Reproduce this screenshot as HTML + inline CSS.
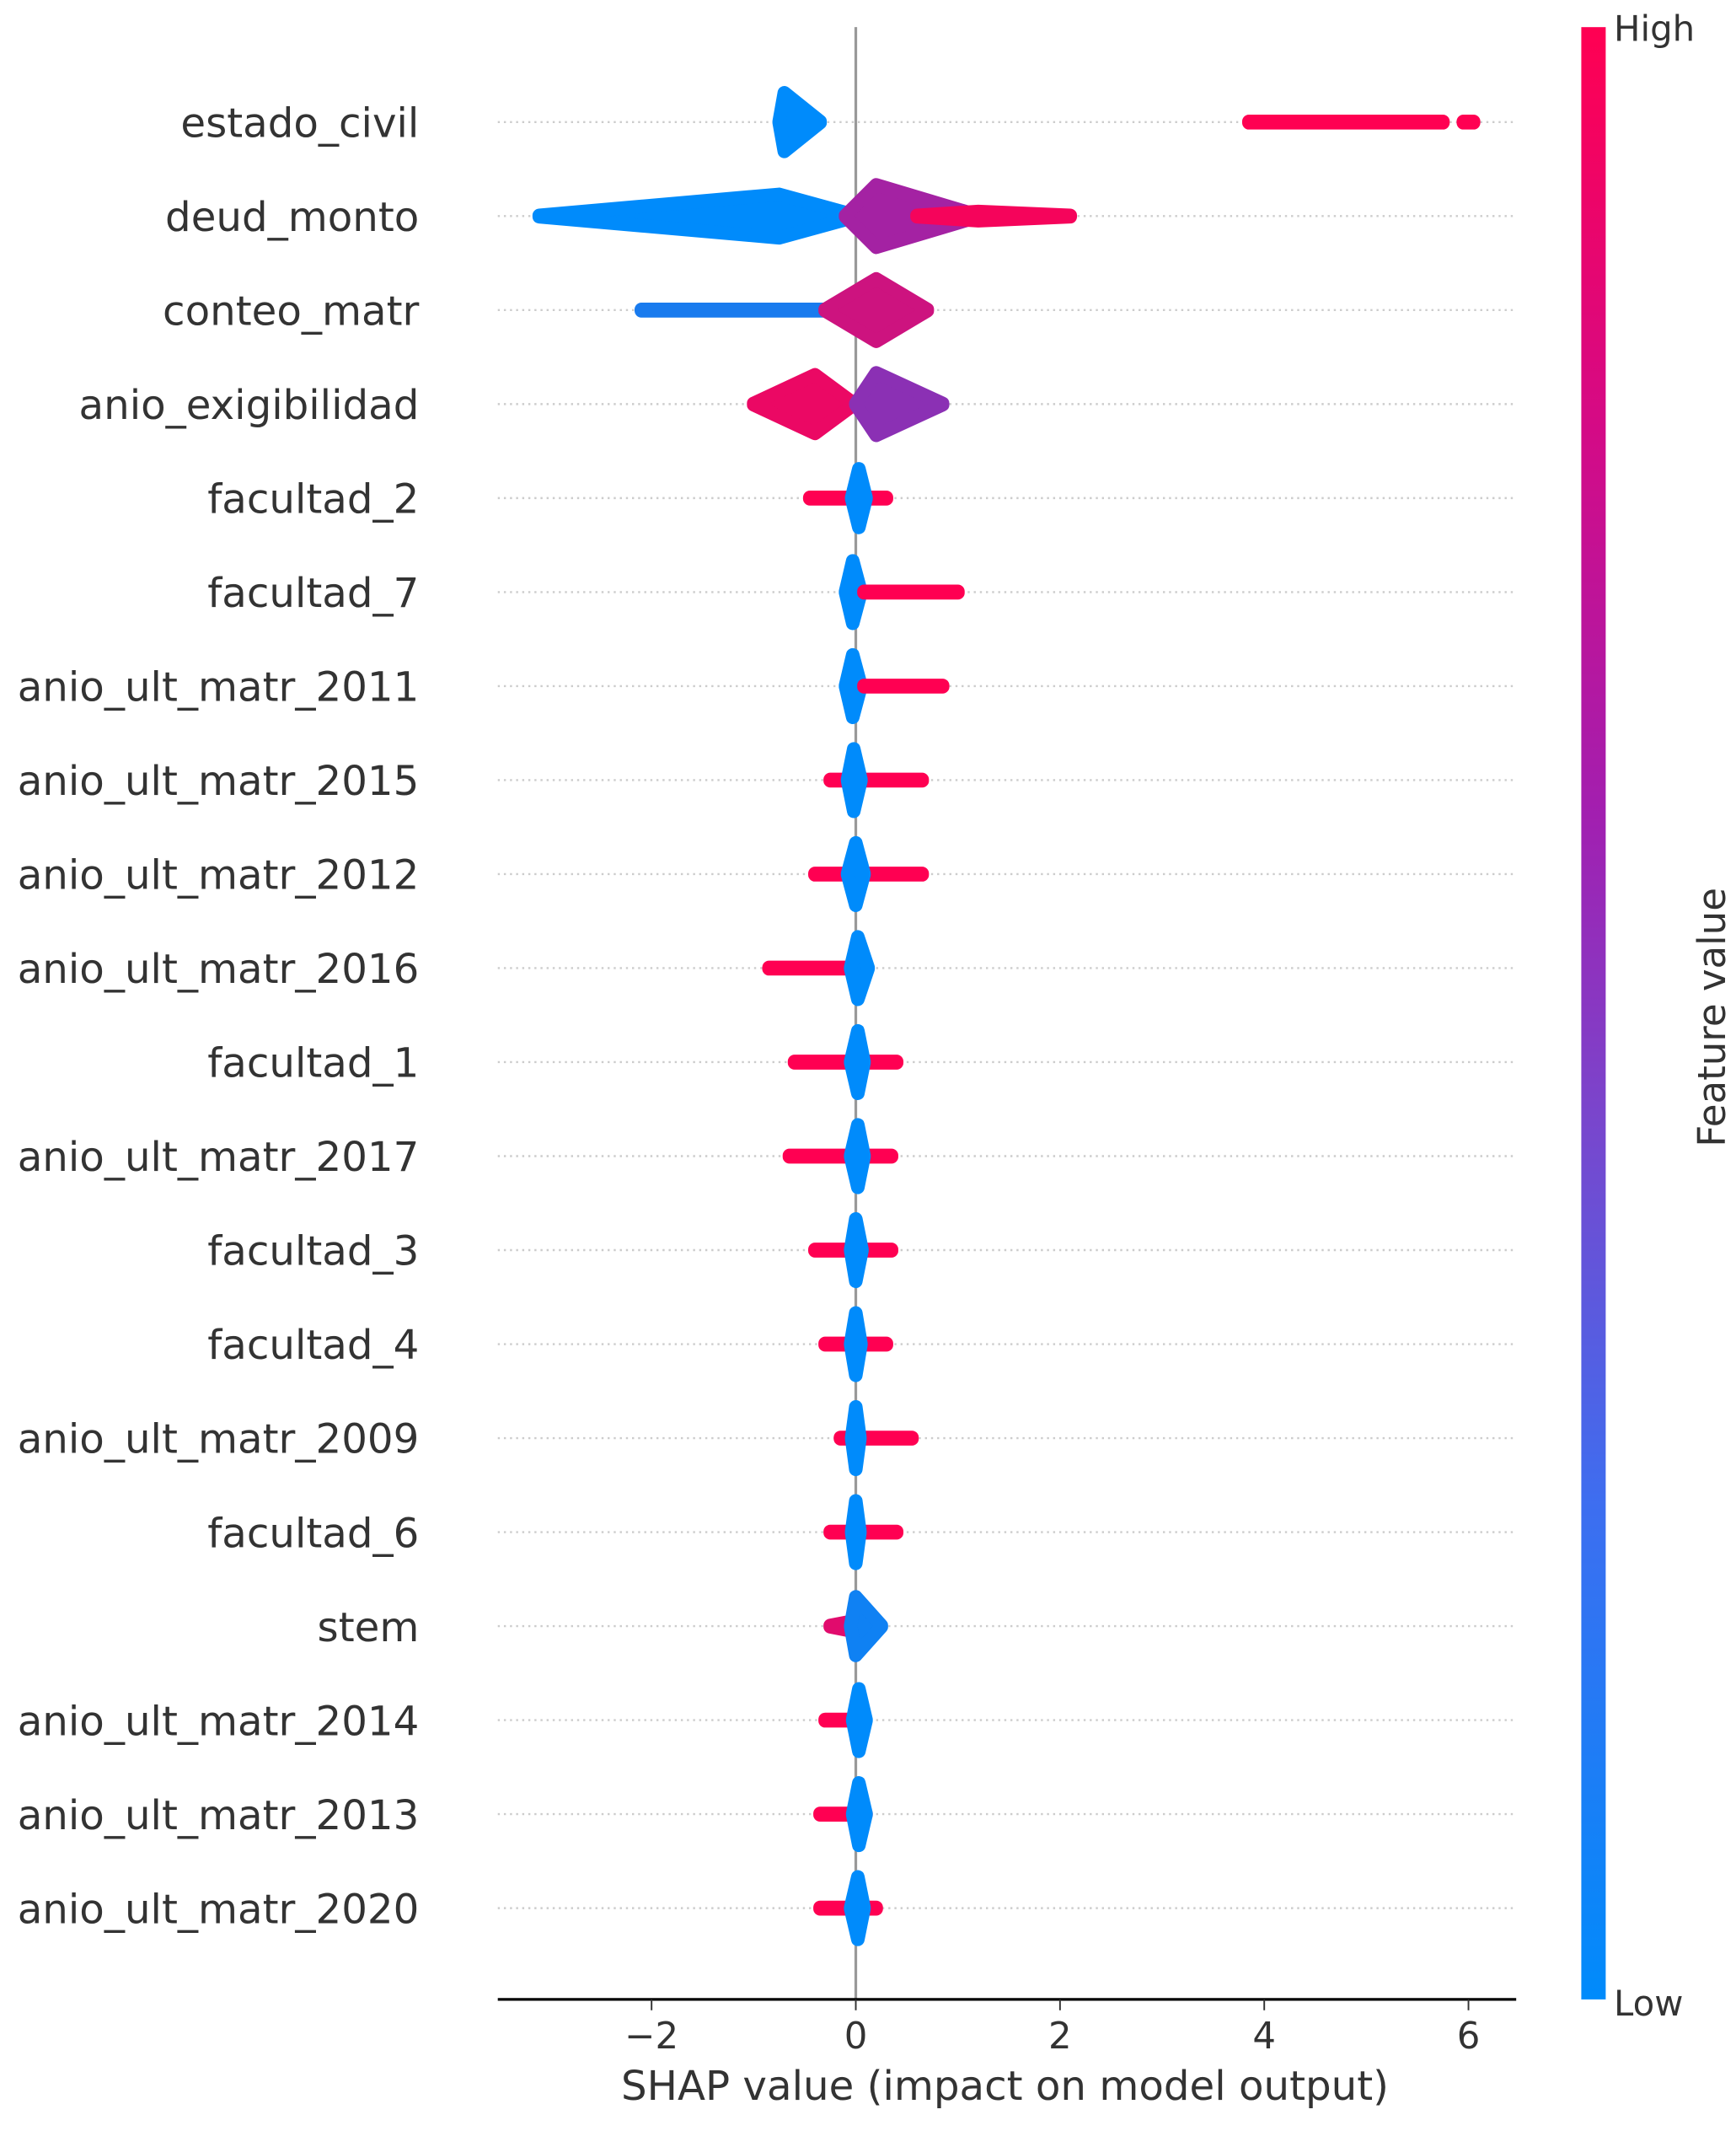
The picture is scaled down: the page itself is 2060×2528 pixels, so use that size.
<!DOCTYPE html>
<html><head><meta charset="utf-8"><style>
html,body{margin:0;padding:0;background:#fff;}
svg{display:block;}
text{font-family:"DejaVu Sans","Liberation Sans",sans-serif;fill:#333;}
</style></head><body>
<svg id="chart" width="2060" height="2528" viewBox="0 0 1280 1571" xmlns="http://www.w3.org/2000/svg">
<defs>
<linearGradient id="cbar" x1="0" y1="1" x2="0" y2="0">
<stop offset="0" stop-color="#008bfb"/>
<stop offset="0.25" stop-color="#3d6ef0"/>
<stop offset="0.45" stop-color="#7a45cc"/>
<stop offset="0.6" stop-color="#a21fb0"/>
<stop offset="0.8" stop-color="#d50a85"/>
<stop offset="1" stop-color="#ff0052"/>
</linearGradient>
</defs>
<g id="grid"></g>
<line x1="631" y1="20" x2="631" y2="1474" stroke="#999" stroke-width="2"/>
<g id="marks"></g>
<g id="labels"></g>
<line x1="367" y1="1474" x2="1118" y2="1474" stroke="#000" stroke-width="2"/>
<g id="xticks"></g>
<text x="741" y="1548" font-size="30" text-anchor="middle">SHAP value (impact on model output)</text>
<rect x="1166" y="20" width="18" height="1454" fill="url(#cbar)"/>
<text x="1190" y="30" font-size="26">High</text>
<text x="1190" y="1486" font-size="26">Low</text>
<text transform="translate(1272,750) rotate(-90)" font-size="28" text-anchor="middle">Feature value</text>
</svg>
<script>
const features = ["estado_civil","deud_monto","conteo_matr","anio_exigibilidad","facultad_2","facultad_7","anio_ult_matr_2011","anio_ult_matr_2015","anio_ult_matr_2012","anio_ult_matr_2016","facultad_1","anio_ult_matr_2017","facultad_3","facultad_4","anio_ult_matr_2009","facultad_6","stem","anio_ult_matr_2014","anio_ult_matr_2013","anio_ult_matr_2020"];
const tickValues = [-2,0,2,4,6];
const tickLabels = ["\u22122","0","2","4","6"];
// cluster segments: feature row, min SHAP, max SHAP, peak SHAP, spread (density), feature-value colour (0 low .. 1 high)
const segRow  = [0,0,0, 1,1,1, 2,2, 3,3, 4,4, 5,5, 6,6, 7,7, 8,8, 9,9, 10,10, 11,11, 12,12, 13,13, 14,14, 15,15, 16,16, 17,17, 18,18, 19,19];
const segMin  = [-0.75,3.85,5.95, -3.1,-0.1,0.6, -2.1,-0.3, -1.0,0.0, -0.45,-0.04, -0.1,0.08, -0.1,0.08, -0.25,-0.08, -0.4,-0.08, -0.85,-0.05, -0.6,-0.05, -0.65,-0.05, -0.4,-0.05, -0.3,-0.05, -0.15,-0.04, -0.25,-0.04, -0.25,-0.05, -0.3,-0.03, -0.35,-0.03, -0.35,-0.05];
const segMax  = [-0.35,5.75,6.05, 0.0,1.2,2.1, -0.3,0.7, -0.02,0.85, 0.3,0.1, 0.05,1.0, 0.05,0.85, 0.65,0.05, 0.65,0.08, -0.05,0.12, 0.4,0.08, 0.35,0.08, 0.35,0.06, 0.3,0.05, 0.55,0.04, 0.4,0.04, 0.1,0.25, 0.05,0.1, 0.1,0.1, 0.2,0.08];
const segPeak = [-0.7,4.8,6.0, -0.75,0.2,1.2, -1.2,0.2, -0.4,0.2, 0.0,0.03, -0.03,0.5, -0.03,0.4, 0.2,-0.02, 0.1,0.0, -0.4,0.02, 0.0,0.02, 0.0,0.02, 0.0,0.0, 0.0,0.0, 0.2,0.0, 0.1,0.0, -0.05,0.0, -0.1,0.03, -0.1,0.03, -0.1,0.02];
const segSpread=[0.95,0.1,0.1, 0.75,1.0,0.3, 0.18,1.0, 0.95,1.0, 0.15,0.95, 1.0,0.12, 1.0,0.12, 0.12,1.0, 0.15,1.0, 0.12,1.0, 0.15,1.0, 0.15,1.0, 0.12,1.0, 0.12,1.0, 0.12,1.0, 0.12,1.0, 0.3,0.95, 0.12,1.0, 0.12,1.0, 0.12,1.0];
const segColor= [0,1,1, 0,0.55,0.95, 0.08,0.75, 0.9,0.45, 1,0, 0,1, 0,1, 1,0, 1,0, 1,0, 1,0, 1,0, 1,0, 1,0, 1,0, 1,0, 0.85,0.05, 1,0, 1,0, 1,0];

const NS="http://www.w3.org/2000/svg";
const xScale = v => 631 + v*75.3;
const yScale = i => 90 + i*69.3;
const maxHalf = 28;
function mix(t){
  const a=[0,139,251], m=[154,38,172], b=[255,0,82];
  let c;
  if(t<0.5){const u=t/0.5;c=a.map((v,k)=>Math.round(v+(m[k]-v)*u));}
  else{const u=(t-0.5)/0.5;c=m.map((v,k)=>Math.round(v+(b[k]-v)*u));}
  return "rgb("+c.join(",")+")";
}
const grid=document.getElementById("grid"), marks=document.getElementById("marks"), labels=document.getElementById("labels"), xt=document.getElementById("xticks");
features.forEach((f,i)=>{
  const y=yScale(i);
  const l=document.createElementNS(NS,"line");
  
  
  l.setAttribute("x1",367);l.setAttribute("x2",1118);l.setAttribute("y1",y);l.setAttribute("y2",y);
  l.setAttribute("stroke","#ccc");l.setAttribute("stroke-width","1.5");l.setAttribute("stroke-dasharray","1.5,3");
  grid.appendChild(l);
  const t=document.createElementNS(NS,"text");
  
  
  t.setAttribute("x",309);t.setAttribute("y",y+11);t.setAttribute("text-anchor","end");t.setAttribute("font-size","30");
  t.textContent=f;labels.appendChild(t);
});
segRow.forEach((r,k)=>{
  const y=yScale(r), x0=xScale(segMin[k]), x1=xScale(segMax[k]), xp=xScale(segPeak[k]);
  const h=Math.max(0.5, segSpread[k]*maxHalf - 5);
  const tip=0.5;
  const d="M"+x0+","+(y-tip)+" L"+xp+","+(y-h)+" L"+x1+","+(y-tip)+" L"+x1+","+(y+tip)+" L"+xp+","+(y+h)+" L"+x0+","+(y+tip)+" Z";
  const p=document.createElementNS(NS,"path");
  
  
  p.setAttribute("d",d);
  const c=mix(segColor[k]);
  p.setAttribute("fill",c);p.setAttribute("stroke",c);p.setAttribute("stroke-width","10");p.setAttribute("stroke-linejoin","round");
  marks.appendChild(p);
});
tickValues.forEach((v,k)=>{
  const x=xScale(v);
  const l=document.createElementNS(NS,"line");
  
  
  l.setAttribute("x1",x);l.setAttribute("x2",x);l.setAttribute("y1",1474);l.setAttribute("y2",1482);
  l.setAttribute("stroke","#333");l.setAttribute("stroke-width","1.2");xt.appendChild(l);
  const t=document.createElementNS(NS,"text");
  
  
  t.setAttribute("x",x);t.setAttribute("y",1510);t.setAttribute("text-anchor","middle");t.setAttribute("font-size","27");
  t.textContent=tickLabels[k];xt.appendChild(t);
});
</script>
</body></html>
